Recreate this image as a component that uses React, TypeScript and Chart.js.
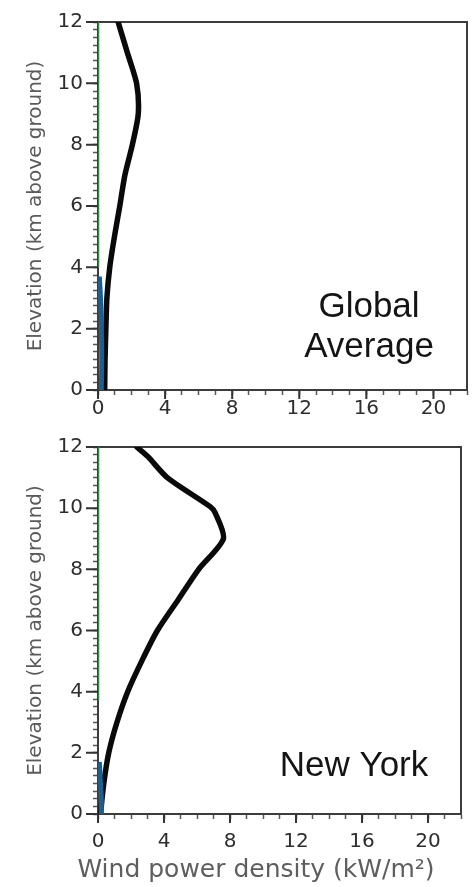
import React, { useEffect, useRef } from 'react';
import { Chart, registerables } from 'chart.js';

Chart.register(...registerables);

// ---- axis ticks ----
const X_MIN = 0;
const X_MAX = 22;
const Y_MIN = 0;
const Y_MAX = 12;
const xTickLabels = [0, 4, 8, 12, 16, 20];
const yTickLabels = [0, 2, 4, 6, 8, 10, 12];
const xMinorStep = 1;
const yMinorStep = 0.25;

// ---- Global average profile (elevation km, power kW/m2) ----
const globalElevation = [0, 1, 2, 3, 4, 5, 6, 7, 8, 9, 10, 11, 12];
const globalPower = [0.4, 0.42, 0.47, 0.53, 0.7, 0.98, 1.3, 1.6, 2.05, 2.4, 2.3, 1.75, 1.2];
const globalBlueElevation = [0, 1, 2, 3, 3.7];
const globalBluePower = [0.2, 0.22, 0.2, 0.15, 0.08];
const globalGreenElevation = [4, 12];
const globalGreenPower = [0, 0];

// ---- New York profile ----
const nyElevation = [0, 1, 2, 3, 4, 5, 6, 7, 8, 9, 9.85, 10.05, 11, 11.7, 12];
const nyPower = [0.15, 0.35, 0.65, 1.15, 1.8, 2.65, 3.6, 4.85, 6.1, 7.6, 7.1, 6.8, 4.2, 3.0, 2.35];
const nyBlueElevation = [0, 0.5, 1, 1.7];
const nyBluePower = [0.2, 0.2, 0.15, 0.08];
const nyGreenElevation = [3.7, 12];
const nyGreenPower = [0, 0];

const xAxisTitle = 'Wind power density (kW/m\u00B2)';
const yAxisTitle = 'Elevation (km above ground)';
const globalLabel = ['Global', 'Average'];
const nyLabel = ['New York'];

const toPoints = (power: number[], elev: number[]) =>
  power.map((p, i) => ({ x: p, y: elev[i] }));

const framePlugin = {
  id: 'frame',
  beforeDatasetsDraw(chart: any) {
    const { ctx, chartArea } = chart;
    ctx.save();
    ctx.strokeStyle = '#3c3c3c';
    ctx.lineWidth = 2;
    ctx.beginPath();
    ctx.moveTo(chartArea.left, chartArea.top);
    ctx.lineTo(chartArea.right, chartArea.top);
    ctx.lineTo(chartArea.right, chartArea.bottom);
    ctx.stroke();
    ctx.restore();
  },
};

const majorTickPlugin = {
  id: 'majorTicks',
  afterDraw(chart: any) {
    const { ctx, chartArea } = chart;
    const xs = chart.scales.x;
    const ys = chart.scales.y;
    ctx.save();
    ctx.strokeStyle = '#333';
    ctx.lineWidth = 2;
    ctx.beginPath();
    xTickLabels.forEach((v) => {
      const px = xs.getPixelForValue(v);
      ctx.moveTo(px, chartArea.bottom);
      ctx.lineTo(px, chartArea.bottom + 9);
    });
    yTickLabels.forEach((v) => {
      const py = ys.getPixelForValue(v);
      ctx.moveTo(chartArea.left, py);
      ctx.lineTo(chartArea.left - 12, py);
    });
    ctx.stroke();
    ctx.restore();
  },
};

const annotationPlugin = {
  id: 'panelLabel',
  afterDatasetsDraw(chart: any, _args: any, opts: any) {
    const { ctx, chartArea } = chart;
    if (!opts || !opts.lines) return;
    ctx.save();
    ctx.fillStyle = '#141414';
    ctx.font = `${opts.size}px "Liberation Sans", Arial, sans-serif`;
    ctx.textAlign = 'center';
    ctx.textBaseline = 'alphabetic';
    const n = opts.lines.length;
    opts.lines.forEach((line: string, i: number) => {
      const y = chartArea.bottom - opts.bottomGap - (n - 1 - i) * opts.lineGap;
      ctx.fillText(line, chartArea.right - opts.rightGap, y);
    });
    ctx.restore();
  },
};

type PanelProps = {
  width: number;
  height: number;
  padTop: number;
  xAxisHeight: number;
  xTickPad: number;
  curve: { x: number; y: number }[];
  blue: { x: number; y: number }[];
  green: { x: number; y: number }[];
  label: string[];
  labelRightGap: number;
  labelBottomGap: number;
};

function Panel(props: PanelProps) {
  const ref = useRef<HTMLCanvasElement | null>(null);
  useEffect(() => {
    if (!ref.current) return;
    const tickFont = { family: '"DejaVu Sans", sans-serif', size: 20 };
    const chart = new Chart(ref.current, {
      type: 'line',
      data: {
        datasets: [
          {
            label: 'green',
            data: props.green,
            borderColor: '#2f8a3c',
            borderWidth: 2.5,
            pointRadius: 0,
            tension: 0,
          },
          {
            label: 'blue',
            data: props.blue,
            borderColor: '#1d5e8c',
            borderWidth: 5,
            pointRadius: 0,
            tension: 0.3,
          },
          {
            label: 'profile',
            data: props.curve,
            borderColor: '#0a0a0a',
            borderWidth: 5.5,
            pointRadius: 0,
            tension: 0.25,
            borderCapStyle: 'round',
            borderJoinStyle: 'round',
          },
        ],
      },
      options: {
        animation: false,
        responsive: false,
        devicePixelRatio: 1,
        parsing: true,
        layout: { padding: { top: props.padTop, right: 5, left: 0, bottom: 0 } },
        plugins: {
          legend: { display: false },
          tooltip: { enabled: false },
          panelLabel: {
            lines: props.label,
            size: 35,
            lineGap: 40,
            rightGap: props.labelRightGap,
            bottomGap: props.labelBottomGap,
          },
        } as any,
        scales: {
          x: {
            type: 'linear',
            min: X_MIN,
            max: X_MAX,
            border: { display: true, color: '#3c3c3c', width: 2 },
            grid: {
              drawOnChartArea: false,
              drawTicks: true,
              tickLength: 5,
              tickColor: '#555',
              tickWidth: 1.5,
            },
            ticks: {
              stepSize: xMinorStep,
              autoSkip: false,
              maxRotation: 0,
              padding: props.xTickPad,
              color: '#2e2e2e',
              font: tickFont,
              callback: (v: any) => (xTickLabels.includes(Number(v)) ? String(v) : ''),
            },
            afterFit: (s: any) => {
              s.height = props.xAxisHeight;
            },
          },
          y: {
            type: 'linear',
            min: Y_MIN,
            max: Y_MAX,
            border: { display: true, color: '#3c3c3c', width: 2 },
            grid: {
              drawOnChartArea: false,
              drawTicks: true,
              tickLength: 5,
              tickColor: '#555',
              tickWidth: 1.5,
            },
            ticks: {
              stepSize: yMinorStep,
              autoSkip: false,
              padding: 10,
              color: '#2e2e2e',
              font: tickFont,
              callback: (v: any) => (yTickLabels.includes(Number(v)) ? String(v) : ''),
            },
            title: {
              display: true,
              text: yAxisTitle,
              color: '#5a5a5a',
              font: { family: '"DejaVu Sans", sans-serif', size: 20 },
              padding: { top: 24, bottom: 0 },
            },
            afterFit: (s: any) => {
              s.width = 98;
            },
          },
        },
      },
      plugins: [framePlugin, majorTickPlugin, annotationPlugin],
    } as any);
    return () => chart.destroy();
  }, []);
  return (
    <canvas
      ref={ref}
      width={props.width}
      height={props.height}
      style={{ display: 'block', width: props.width, height: props.height }}
    />
  );
}

export default function App() {
  return (
    <div
      style={{
        position: 'fixed',
        left: 0,
        top: 0,
        width: 472,
        height: 887,
        background: '#ffffff',
        overflow: 'hidden',
      }}
    >
      <Panel
        width={472}
        height={425}
        padTop={20}
        xAxisHeight={35}
        xTickPad={2}
        curve={toPoints(globalPower, globalElevation)}
        blue={toPoints(globalBluePower, globalBlueElevation)}
        green={toPoints(globalGreenPower, globalGreenElevation)}
        label={globalLabel}
        labelRightGap={98}
        labelBottomGap={33}
      />
      <Panel
        width={472}
        height={462}
        padTop={17}
        xAxisHeight={73}
        xTickPad={11}
        curve={toPoints(nyPower, nyElevation)}
        blue={toPoints(nyBluePower, nyBlueElevation)}
        green={toPoints(nyGreenPower, nyGreenElevation)}
        label={nyLabel}
        labelRightGap={107}
        labelBottomGap={38}
      />
      <div
        style={{
          position: 'absolute',
          left: 0,
          top: 854,
          width: 512,
          textAlign: 'center',
          fontFamily: '"DejaVu Sans", sans-serif',
          fontSize: 25,
          lineHeight: '30px',
          color: '#5e5e5e',
          whiteSpace: 'nowrap',
        }}
      >
        {xAxisTitle}
      </div>
    </div>
  );
}
